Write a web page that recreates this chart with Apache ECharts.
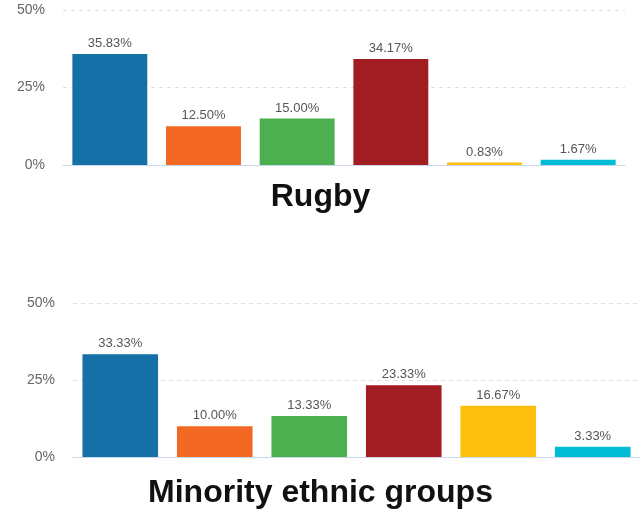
<!DOCTYPE html>
<html>
<head>
<meta charset="utf-8">
<script src="https://cdn.jsdelivr.net/npm/echarts@6/dist/echarts.min.js"></script>
<style>html,body{margin:0;padding:0;background:#fff}#c{width:641px;height:512px}</style>
</head>
<body>
<div id="c"></div>
<script>
var categories = ['Group 1', 'Group 2', 'Group 3', 'Group 4', 'Group 5', 'Group 6'];
var colors = ['#1470a7', '#f36823', '#4caf50', '#a21d21', '#fdbf0b', '#00bcd4'];
var rugbyValues = [35.83, 12.50, 15.00, 34.17, 0.83, 1.67];
var minorityValues = [33.33, 10.00, 13.33, 23.33, 16.67, 3.33];
var titles = ['Rugby', 'Minority ethnic groups'];
var yTicks = { min: 0, max: 50, interval: 25 };

var font = 'Liberation Sans, Arial, Helvetica, sans-serif';
function mkData(vals) {
  return vals.map(function (v, i) {
    return { value: v, itemStyle: { color: colors[i] } };
  });
}
function yAxis(gi) {
  return {
    type: 'value', gridIndex: gi, min: yTicks.min, max: yTicks.max, interval: yTicks.interval,
    axisLabel: { formatter: '{value}%', color: '#666', fontSize: 14, fontFamily: font, margin: 18 },
    axisLine: { show: false }, axisTick: { show: false },
    splitLine: { lineStyle: { color: '#e0e0e0', type: [4, 4], width: 1 } }
  };
}
function xAxis(gi) {
  return {
    type: 'category', gridIndex: gi, data: categories,
    axisLabel: { show: false }, axisTick: { show: false },
    axisLine: { lineStyle: { color: '#ccd6eb', width: 1 } }
  };
}
function series(gi, vals) {
  return {
    type: 'bar', xAxisIndex: gi, yAxisIndex: gi, data: mkData(vals),
    barCategoryGap: '20%',
    label: {
      show: true, position: 'top', distance: 4, color: '#555', fontSize: 13, fontFamily: font,
      formatter: function (p) { return p.value.toFixed(2) + '%'; }
    }
  };
}
var chart = echarts.init(document.getElementById('c'), null, { renderer: 'canvas' });
chart.setOption({
  animation: false,
  backgroundColor: '#fff',
  title: [
    { text: titles[0], left: 'center', top: 176, textStyle: { fontSize: 32, fontWeight: 'bold', color: '#111', fontFamily: font } },
    { text: titles[1], left: 'center', top: 472, textStyle: { fontSize: 32, fontWeight: 'bold', color: '#111', fontFamily: font } }
  ],
  grid: [
    { left: 63, right: 16, top: 10, height: 155 },
    { left: 73, right: 1, top: 303, height: 154 }
  ],
  xAxis: [xAxis(0), xAxis(1)],
  yAxis: [yAxis(0), yAxis(1)],
  series: [series(0, rugbyValues), series(1, minorityValues)]
});
</script>
</body>
</html>
